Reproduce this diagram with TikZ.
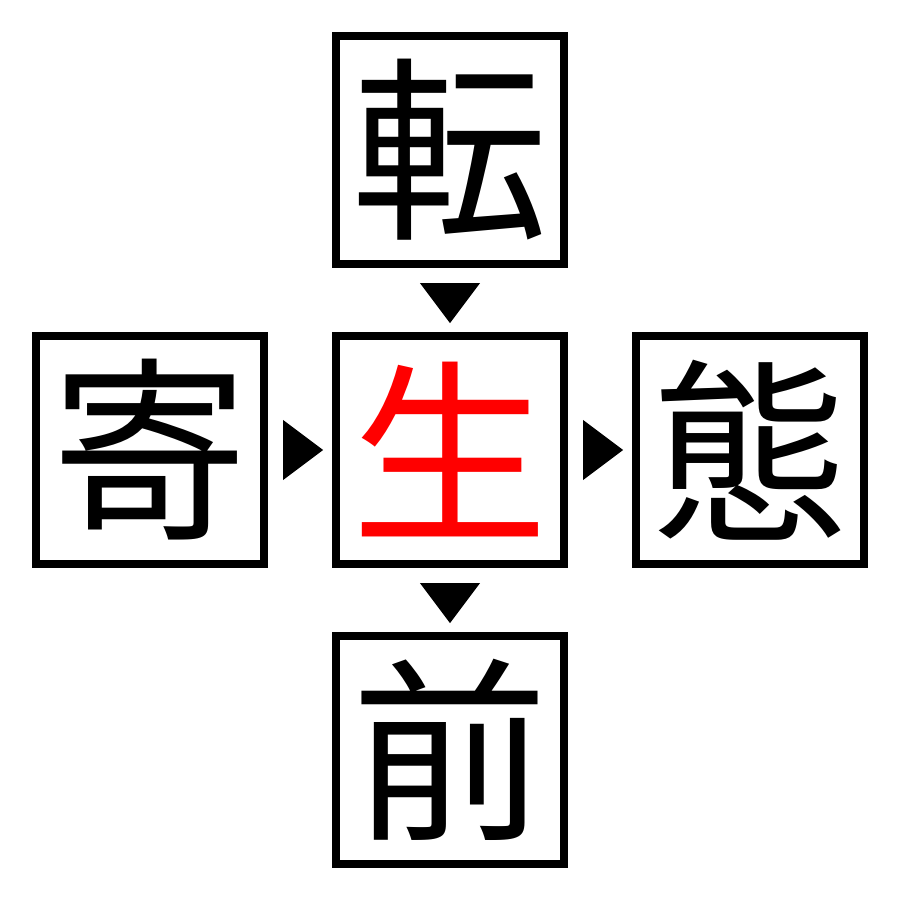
\documentclass[tikz,border=0pt]{standalone}
\usepackage{fontspec}
\newfontfamily\cjk{Noto Sans CJK JP}
\begin{document}
\begin{tikzpicture}[x=0.01cm,y=-0.01cm,
  box/.style={draw=black,line width=0.08cm,minimum size=2.28cm,inner sep=0pt,outer sep=0pt,font=\cjk\fontsize{56}{56}\selectfont},
  tri/.style={fill=black}]
\useasboundingbox (0,0) rectangle (900,900);
\node[box] (t) at (450,150) {転};
\node[box] (l) at (150,450) {寄};
\node[box,text=red] (c) at (450,450) {生};
\node[box] (r) at (750,450) {態};
\node[box] (b) at (450,750) {前};
\fill[tri] ([xshift=-0.3cm,yshift=-0.19cm]t.south) -- ([xshift=0.3cm,yshift=-0.19cm]t.south) -- ([yshift=-0.59cm]t.south) -- cycle;
\fill[tri] ([xshift=-0.3cm,yshift=-0.19cm]c.south) -- ([xshift=0.3cm,yshift=-0.19cm]c.south) -- ([yshift=-0.59cm]c.south) -- cycle;
\fill[tri] ([xshift=0.19cm,yshift=0.3cm]l.east) -- ([xshift=0.19cm,yshift=-0.3cm]l.east) -- ([xshift=0.59cm]l.east) -- cycle;
\fill[tri] ([xshift=0.19cm,yshift=0.3cm]c.east) -- ([xshift=0.19cm,yshift=-0.3cm]c.east) -- ([xshift=0.59cm]c.east) -- cycle;
\end{tikzpicture}
\end{document}
